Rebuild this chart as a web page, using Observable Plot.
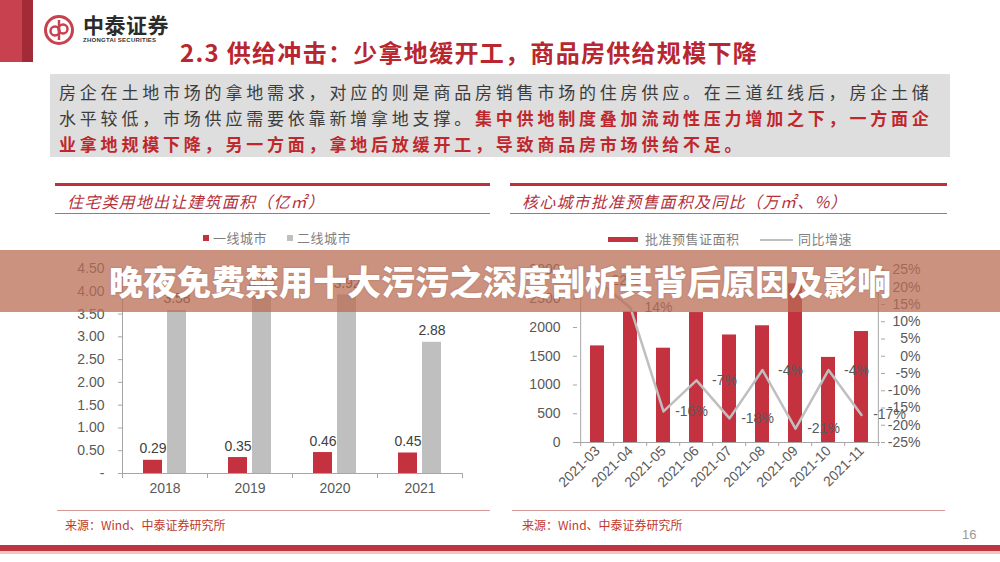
<!DOCTYPE html>
<html><head><meta charset="utf-8">
<script src="https://cdn.jsdelivr.net/npm/d3@7"></script>
<script src="https://cdn.jsdelivr.net/npm/@observablehq/plot@0.6"></script>
<style>
body{margin:0;background:#fff;}
#slide{position:relative;width:1000px;height:562px;overflow:hidden;background:#fff;font-family:"Noto Sans CJK SC","Noto Sans",sans-serif;}
.abs{position:absolute;white-space:nowrap;}
.para{position:absolute;left:59px;font-size:17px;letter-spacing:3.8px;line-height:26px;color:#3c3c3c;white-space:nowrap;}
.hl{color:#c0272d;font-weight:700;}
.ptitle{position:absolute;font-size:16px;font-style:italic;letter-spacing:1.2px;color:#b5303a;line-height:22px;white-space:nowrap;}
.leg{position:absolute;font-size:13px;color:#7f7f7f;line-height:16px;white-space:nowrap;letter-spacing:0.5px;}
.src{position:absolute;font-size:12px;color:#c0392b;line-height:16px;white-space:nowrap;}
</style></head>
<body><div id="slide">
  <div class="abs" style="left:0;top:0;width:22px;height:62px;background:#c8414e"></div>
  <div class="abs" style="left:22px;top:0;width:11px;height:62px;background:#a32b37"></div>
  <svg class="abs" style="left:43px;top:14px" width="32" height="32" viewBox="0 0 32 32">
    <circle cx="16" cy="16" r="13.5" fill="none" stroke="#c8414e" stroke-width="3"/>
    <circle cx="12" cy="17" r="4.5" fill="none" stroke="#c8414e" stroke-width="2.5"/>
    <circle cx="20" cy="15" r="4.5" fill="none" stroke="#c8414e" stroke-width="2.5"/>
    <line x1="16" y1="6" x2="16" y2="26" stroke="#c8414e" stroke-width="2.5"/>
  </svg>
  <div class="abs" style="left:83px;top:12px;font-size:21px;font-weight:700;color:#2b2b2b;line-height:24px;letter-spacing:0.5px">中泰证券</div>
  <div class="abs" style="left:83px;top:37px;font-size:6px;font-weight:700;color:#333;font-family:'Liberation Sans',Arial,sans-serif;letter-spacing:0.25px">ZHONGTAI SECURITIES</div>
  <div class="abs" style="left:180px;top:37px;font-size:24px;font-weight:700;color:#b8262f;line-height:30px;letter-spacing:1.3px">2.3 供给冲击：少拿地缓开工，商品房供给规模下降</div>

  <div class="abs" style="left:50px;top:74px;width:900px;height:83px;background:#dedede"></div>
  <div class="para" style="top:79px">房企在土地市场的拿地需求，对应的则是商品房销售市场的住房供应。在三道红线后，房企土储</div>
  <div class="para" style="top:105px">水平较低，市场供应需要依靠新增拿地支撑。<span class="hl">集中供地制度叠加流动性压力增加之下，一方面企</span></div>
  <div class="para" style="top:131px"><span class="hl">业拿地规模下降，另一方面，拿地后放缓开工，导致商品房市场供给不足。</span></div>

  <div class="abs" style="left:55px;top:183px;width:435px;height:3px;background:#c0303c"></div>
  <div class="ptitle" style="left:67px;top:190px">住宅类用地出让建筑面积（亿㎡）</div>
  <div class="abs" style="left:55px;top:213px;width:435px;height:1px;background:#c86470"></div>
  <div class="abs" style="left:510px;top:183px;width:437px;height:3px;background:#c0303c"></div>
  <div class="ptitle" style="left:522px;top:190px">核心城市批准预售面积及同比（万㎡、%）</div>
  <div class="abs" style="left:510px;top:213px;width:437px;height:1px;background:#c86470"></div>

  <div class="abs" style="left:203px;top:235px;width:6px;height:6px;background:#c4323f"></div>
  <div class="leg" style="left:213px;top:230px">一线城市</div>
  <div class="abs" style="left:287px;top:235px;width:6px;height:6px;background:#bfbfbf"></div>
  <div class="leg" style="left:297px;top:230px">二线城市</div>
  <div class="abs" style="left:608px;top:237px;width:30px;height:5px;background:#c4323f"></div>
  <div class="leg" style="left:645px;top:231px">批准预售证面积</div>
  <div class="abs" style="left:760px;top:239px;width:33px;height:2px;background:#bfbfbf"></div>
  <div class="leg" style="left:798px;top:231px">同比增速</div>

  <div id="chart1" class="abs" style="left:55px;top:250px"></div>
  <div id="chart2" class="abs" style="left:510px;top:250px"></div>

  <div class="abs" style="left:57px;top:510px;width:433px;height:1px;background:#d49a9a"></div>
  <div class="abs" style="left:512px;top:510px;width:433px;height:1px;background:#d49a9a"></div>
  <div class="src" style="left:65px;top:517px">来源：Wind、中泰证券研究所</div>
  <div class="src" style="left:522px;top:517px">来源：Wind、中泰证券研究所</div>
  <div class="abs" style="left:962px;top:527px;font-size:13px;color:#999;font-family:'Liberation Sans',Arial,sans-serif">16</div>
  <div class="abs" style="left:0;top:545px;width:1000px;height:6px;background:#c0343f"></div>
  <div class="abs" style="left:0;top:551px;width:1000px;height:3px;background:#f2c4c4"></div>

  <div class="abs" style="left:0;top:250px;width:1000px;height:62px;background:rgba(185,110,85,0.75);z-index:5"></div>
  <div class="abs" style="left:0;top:250px;width:1000px;height:62px;line-height:62px;text-align:center;font-size:34px;font-weight:900;color:#fff;z-index:6;text-shadow:0 0 2px rgba(120,60,40,0.4)">晚夜免费禁用十大污污之深度剖析其背后原因及影响</div>
</div>
<script>
// ---- data: left chart ----
const years = ["2018", "2019", "2020", "2021"];
const tier1Cities = [0.29, 0.35, 0.46, 0.45];
const tier2Cities = [3.58, 3.94, 3.92, 2.88];
const leftTicks = [0, 0.5, 1, 1.5, 2, 2.5, 3, 3.5, 4, 4.5];

// ---- data: right chart ----
const months = ["2021-03", "2021-04", "2021-05", "2021-06", "2021-07", "2021-08", "2021-09", "2021-10", "2021-11"];
const presaleArea = [1680, 2270, 1640, 2260, 1870, 2030, 2760, 1480, 1930];
const yoyGrowth = [22, 14, -16, -7, -18, -4, -21, -4, -17];
const areaTicks = [0, 500, 1000, 1500, 2000, 2500, 3000];
const pctTicks = [-25, -20, -15, -10, -5, 0, 5, 10, 15, 20, 25];

const RED = "#c4323f", GRAY = "#bfbfbf", AXIS = "#a6a6a6", TXT = "#595959";
const numFont = "'Liberation Sans', Arial, sans-serif";
const baseStyle = {fontFamily: numFont, fontSize: "14px", color: TXT, background: "transparent", overflow: "visible"};

// ---- left chart ----
{
  const W = 435, H = 260, ml = 67, mr = 28, mt = 18, mb = 37;
  const bw = (W - ml - mr) / years.length;
  const barW = 19, gap = 5;
  const start = (bw - 2 * barW - gap) / 2;
  const rows = years.map((y, i) => ({year: y, t1: tier1Cities[i], t2: tier2Cities[i]}));
  const off = barW / 2 + gap / 2;
  const chart = Plot.plot({
    width: W, height: H, marginLeft: ml, marginRight: mr, marginTop: mt, marginBottom: mb,
    x: {type: "band", domain: years, padding: 0, label: null},
    y: {domain: [leftTicks[0], leftTicks[leftTicks.length - 1]], label: null},
    style: baseStyle,
    marks: [
      Plot.barY(rows, {x: "year", y: "t1", fill: RED, insetLeft: start, insetRight: bw - start - barW}),
      Plot.barY(rows, {x: "year", y: "t2", fill: GRAY, insetLeft: start + barW + gap, insetRight: start}),
      Plot.text(rows, {x: "year", y: "t1", text: d => d.t1.toFixed(2), dx: -off, dy: -7, lineAnchor: "bottom", fill: "#404040", fontSize: 14}),
      Plot.text(rows, {x: "year", y: "t2", text: d => d.t2.toFixed(2), dx: off, dy: -7, lineAnchor: "bottom", fill: "#404040", fontSize: 14}),
      Plot.ruleY([0], {stroke: AXIS}),
      Plot.ruleX([years[0]], {dx: -bw / 2, stroke: AXIS}),
      Plot.axisY({ticks: leftTicks, tickFormat: d => d === 0 ? "-" : d.toFixed(2), tickSize: 4, tickPadding: 14, stroke: AXIS, fill: TXT, fontSize: 14, label: null}),
      Plot.axisX({tickSize: 0, tickPadding: 10, fill: TXT, fontSize: 14, label: null}),
      Plot.axisX({tickSize: 5, tickFormat: () => "", dx: -bw / 2, stroke: AXIS, label: null}),
      Plot.axisX({ticks: [years[years.length - 1]], tickSize: 5, tickFormat: () => "", dx: bw / 2, stroke: AXIS, label: null})
    ]
  });
  document.getElementById("chart1").appendChild(chart);
}

// ---- right chart ----
{
  const W = 435, H = 250, ml = 67, mr = 65, mt = 19.5, mb = 58;
  const bw = (W - ml - mr) / months.length;
  const aMax = areaTicks[areaTicks.length - 1];
  const pMin = pctTicks[0], pMax = pctTicks[pctTicks.length - 1];
  const pctToY = p => (p - pMin) / (pMax - pMin) * aMax;
  const yToPct = v => v / aMax * (pMax - pMin) + pMin;
  const rows = months.map((m, i) => ({month: m, area: presaleArea[i], yoy: yoyGrowth[i]}));
  const chart = Plot.plot({
    width: W, height: H, marginLeft: ml, marginRight: mr, marginTop: mt, marginBottom: mb,
    x: {type: "band", domain: months, paddingInner: 0.58, paddingOuter: 0.29, label: null},
    y: {domain: [0, aMax], label: null},
    style: baseStyle,
    marks: [
      Plot.barY(rows, {x: "month", y: "area", fill: RED}),
      Plot.line(rows, {x: "month", y: d => pctToY(d.yoy), stroke: GRAY, strokeWidth: 2.5}),
      Plot.text(rows, {x: "month", y: d => pctToY(d.yoy), text: d => `${d.yoy}%`, dx: 28, fill: TXT, fontSize: 14}),
      Plot.ruleY([0], {stroke: AXIS}),
      Plot.ruleX([months[0]], {dx: -bw / 2, stroke: AXIS}),
      Plot.ruleX([months[months.length - 1]], {dx: bw / 2, stroke: AXIS}),
      Plot.axisY({ticks: areaTicks, tickFormat: d => String(d), tickSize: 4, tickPadding: 13, stroke: AXIS, fill: TXT, fontSize: 14, label: null}),
      Plot.axisY({anchor: "right", ticks: pctTicks.map(pctToY), tickFormat: v => `${Math.round(yToPct(v))}%`, tickSize: 4, tickPadding: 36, textAnchor: "end", stroke: AXIS, fill: TXT, fontSize: 14, label: null}),
      Plot.axisX({tickRotate: -45, tickSize: 0, tickPadding: 6, fill: TXT, fontSize: 14, label: null}),
      Plot.axisX({tickSize: 4, tickFormat: () => "", dx: -bw / 2, stroke: AXIS, label: null}),
      Plot.axisX({ticks: [months[months.length - 1]], tickSize: 4, tickFormat: () => "", dx: bw / 2, stroke: AXIS, label: null})
    ]
  });
  document.getElementById("chart2").appendChild(chart);
}
</script>
</body></html>
